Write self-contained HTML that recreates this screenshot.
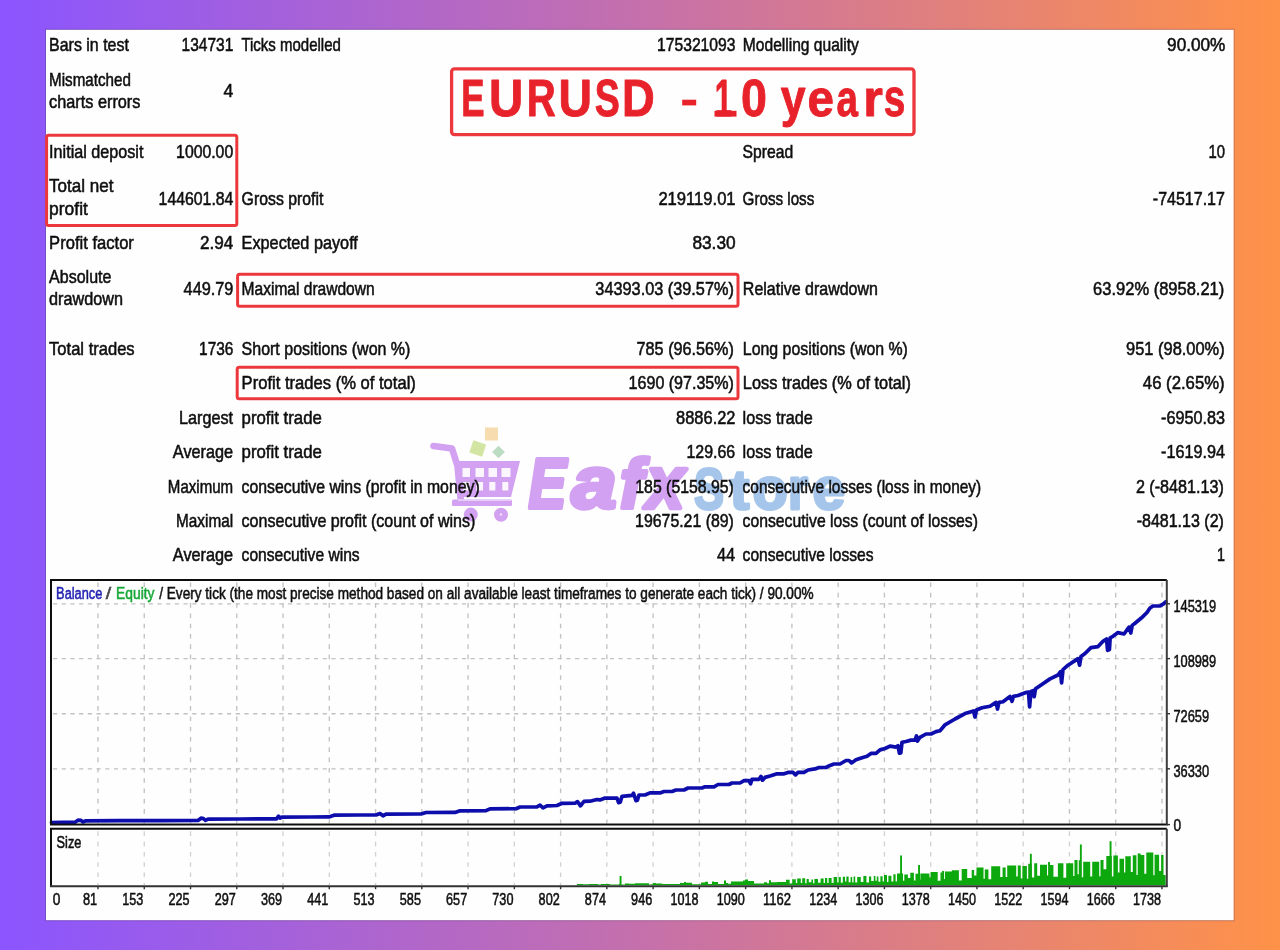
<!DOCTYPE html>
<html lang="en"><head><meta charset="utf-8"><title>EURUSD - 10 years backtest</title>
<style>
html,body{margin:0;padding:0;width:1280px;height:950px;overflow:hidden;background:#c46fa8}
svg{display:block;font-family:"Liberation Sans",sans-serif}
</style></head><body>
<svg width="1280" height="950" viewBox="0 0 1280 950">
<defs>
<linearGradient id="bg" x1="0" y1="0" x2="1" y2="0"><stop offset="0" stop-color="#8b55ff"/><stop offset="0.5" stop-color="#c570ac"/><stop offset="1" stop-color="#ff9248"/></linearGradient>
<filter id="soft" x="-5%" y="-5%" width="110%" height="110%"><feGaussianBlur stdDeviation="0.45"/></filter>
<filter id="soft2" x="-5%" y="-5%" width="110%" height="110%"><feGaussianBlur stdDeviation="0.7"/></filter>
</defs>
<rect width="1280" height="950" fill="url(#bg)"/>
<rect x="45.6" y="29.4" width="1188.4" height="891.2" fill="none" stroke="#3a2a50" stroke-opacity="0.28" stroke-width="1.2" filter="url(#soft)"/>
<rect x="46" y="29.8" width="1187.6" height="890.4" fill="#fefefe"/>
<g id="watermark" filter="url(#soft2)">
<path d="M433.5 446 L452 448.5 L457.5 466 L461 502" fill="none" stroke="#d3a1f1" stroke-width="6.6" stroke-linecap="round" stroke-linejoin="round"/>
<path d="M457 461 L520 461 L511 497 L460 497 Z" fill="#d3a1f1"/>
<rect x="462.5" y="468" width="7.5" height="9" fill="#fbf6fe"/>
<rect x="463.3" y="482" width="6.3" height="8.5" fill="#fbf6fe"/>
<rect x="475.5" y="468" width="8.5" height="9" fill="#fbf6fe"/>
<rect x="476.3" y="482" width="6.7" height="8.5" fill="#fbf6fe"/>
<rect x="488.5" y="468" width="8.5" height="9" fill="#fbf6fe"/>
<rect x="489.3" y="482" width="6.1" height="8.5" fill="#fbf6fe"/>
<rect x="501.5" y="468" width="9.0" height="9" fill="#fbf6fe"/>
<rect x="502.3" y="482" width="6.0" height="8.5" fill="#fbf6fe"/>
<rect x="452" y="499.5" width="60" height="6.5" rx="1.5" fill="#d3a1f1"/>
<rect x="458" y="499.3" width="53" height="1.6" fill="#e9d3f7"/>
<circle cx="470.8" cy="514.6" r="7" fill="#d3a1f1"/><circle cx="501" cy="514.8" r="7" fill="#d3a1f1"/>
<circle cx="501" cy="514.5" r="1.2" fill="#f2e3fb"/>
<rect x="485" y="427.5" width="13" height="13" fill="#f6dcae"/>
<rect x="471" y="442" width="13.5" height="13" fill="#d3e5a2" transform="rotate(18 477.7 448.5)"/>
<rect x="494" y="447.5" width="9" height="9" fill="#bcdcc4" transform="rotate(45 498.5 452)"/>
<text transform="translate(528.39 508.30) scale(0.8011 1.0)" font-size="70.6" font-weight="bold" font-style="italic" fill="#d3a1f1" stroke="#d3a1f1" stroke-width="4.2" stroke-linejoin="round">E</text>
<text transform="translate(571.61 508.30) scale(1.1449 1.05)" font-size="70.6" font-weight="bold" font-style="italic" fill="#d3a1f1" stroke="#d3a1f1" stroke-width="4.2" stroke-linejoin="round">a</text>
<text transform="translate(619.75 508.30) scale(0.9918 1.0)" font-size="70.6" font-weight="bold" font-style="italic" fill="#d3a1f1" stroke="#d3a1f1" stroke-width="4.2" stroke-linejoin="round">f</text>
<text transform="translate(646.26 508.30) scale(0.9725 1.05)" font-size="70.6" font-weight="bold" font-style="italic" fill="#d3a1f1" stroke="#d3a1f1" stroke-width="4.2" stroke-linejoin="round">x</text>
<text transform="translate(694.02 508.60) scale(0.7967 1.0)" font-size="56.5" font-weight="bold" fill="#a5c5ea" stroke="#a5c5ea" stroke-width="2.8" stroke-linejoin="round">S</text>
<text transform="translate(729.93 508.60) scale(1.0279 0.98)" font-size="56.5" font-weight="bold" fill="#a5c5ea" stroke="#a5c5ea" stroke-width="2.8" stroke-linejoin="round">t</text>
<text transform="translate(752.38 508.60) scale(1.0213 1.06)" font-size="56.5" font-weight="bold" fill="#a5c5ea" stroke="#a5c5ea" stroke-width="2.8" stroke-linejoin="round">o</text>
<text transform="translate(787.88 508.60) scale(0.9105 1.06)" font-size="56.5" font-weight="bold" fill="#a5c5ea" stroke="#a5c5ea" stroke-width="2.8" stroke-linejoin="round">r</text>
<text transform="translate(812.56 508.60) scale(1.0371 1.06)" font-size="56.5" font-weight="bold" fill="#a5c5ea" stroke="#a5c5ea" stroke-width="2.8" stroke-linejoin="round">e</text>
</g>
<g id="table" filter="url(#soft)">
<text x="49.10" y="51.25" font-size="18.2" fill="#0e0e0e" stroke="#0e0e0e" stroke-width="0.55" textLength="79.80" lengthAdjust="spacingAndGlyphs">Bars in test</text>
<text x="49.10" y="85.50" font-size="18.2" fill="#0e0e0e" stroke="#0e0e0e" stroke-width="0.55" textLength="81.80" lengthAdjust="spacingAndGlyphs">Mismatched</text>
<text x="49.10" y="108.00" font-size="18.2" fill="#0e0e0e" stroke="#0e0e0e" stroke-width="0.55" textLength="91.30" lengthAdjust="spacingAndGlyphs">charts errors</text>
<text x="49.10" y="157.50" font-size="18.2" fill="#0e0e0e" stroke="#0e0e0e" stroke-width="0.55" textLength="94.30" lengthAdjust="spacingAndGlyphs">Initial deposit</text>
<text x="49.10" y="192.00" font-size="18.2" fill="#0e0e0e" stroke="#0e0e0e" stroke-width="0.55" textLength="64.30" lengthAdjust="spacingAndGlyphs">Total net</text>
<text x="49.10" y="214.50" font-size="18.2" fill="#0e0e0e" stroke="#0e0e0e" stroke-width="0.55" textLength="38.80" lengthAdjust="spacingAndGlyphs">profit</text>
<text x="49.10" y="248.75" font-size="18.2" fill="#0e0e0e" stroke="#0e0e0e" stroke-width="0.55" textLength="84.80" lengthAdjust="spacingAndGlyphs">Profit factor</text>
<text x="49.10" y="282.50" font-size="18.2" fill="#0e0e0e" stroke="#0e0e0e" stroke-width="0.55" textLength="62.30" lengthAdjust="spacingAndGlyphs">Absolute</text>
<text x="49.10" y="305.00" font-size="18.2" fill="#0e0e0e" stroke="#0e0e0e" stroke-width="0.55" textLength="73.80" lengthAdjust="spacingAndGlyphs">drawdown</text>
<text x="49.10" y="355.00" font-size="18.2" fill="#0e0e0e" stroke="#0e0e0e" stroke-width="0.55" textLength="85.55" lengthAdjust="spacingAndGlyphs">Total trades</text>
<text x="181.60" y="51.25" font-size="18.2" fill="#0e0e0e" stroke="#0e0e0e" stroke-width="0.55" textLength="51.80" lengthAdjust="spacingAndGlyphs">134731</text>
<text x="223.60" y="97.20" font-size="18.2" fill="#0e0e0e" stroke="#0e0e0e" stroke-width="0.55" textLength="9.80" lengthAdjust="spacingAndGlyphs">4</text>
<text x="176.10" y="157.50" font-size="18.2" fill="#0e0e0e" stroke="#0e0e0e" stroke-width="0.55" textLength="57.10" lengthAdjust="spacingAndGlyphs">1000.00</text>
<text x="158.60" y="204.50" font-size="18.2" fill="#0e0e0e" stroke="#0e0e0e" stroke-width="0.55" textLength="74.80" lengthAdjust="spacingAndGlyphs">144601.84</text>
<text x="200.10" y="248.75" font-size="18.2" fill="#0e0e0e" stroke="#0e0e0e" stroke-width="0.55" textLength="33.30" lengthAdjust="spacingAndGlyphs">2.94</text>
<text x="183.60" y="295.00" font-size="18.2" fill="#0e0e0e" stroke="#0e0e0e" stroke-width="0.55" textLength="49.80" lengthAdjust="spacingAndGlyphs">449.79</text>
<text x="199.10" y="355.00" font-size="18.2" fill="#0e0e0e" stroke="#0e0e0e" stroke-width="0.55" textLength="34.30" lengthAdjust="spacingAndGlyphs">1736</text>
<text x="179.10" y="423.80" font-size="18.2" fill="#0e0e0e" stroke="#0e0e0e" stroke-width="0.55" textLength="54.00" lengthAdjust="spacingAndGlyphs">Largest</text>
<text x="172.85" y="458.20" font-size="18.2" fill="#0e0e0e" stroke="#0e0e0e" stroke-width="0.55" textLength="60.25" lengthAdjust="spacingAndGlyphs">Average</text>
<text x="167.85" y="492.60" font-size="18.2" fill="#0e0e0e" stroke="#0e0e0e" stroke-width="0.55" textLength="65.25" lengthAdjust="spacingAndGlyphs">Maximum</text>
<text x="176.10" y="527.00" font-size="18.2" fill="#0e0e0e" stroke="#0e0e0e" stroke-width="0.55" textLength="57.00" lengthAdjust="spacingAndGlyphs">Maximal</text>
<text x="172.85" y="561.40" font-size="18.2" fill="#0e0e0e" stroke="#0e0e0e" stroke-width="0.55" textLength="60.25" lengthAdjust="spacingAndGlyphs">Average</text>
<text x="241.40" y="51.25" font-size="18.2" fill="#0e0e0e" stroke="#0e0e0e" stroke-width="0.55" textLength="99.50" lengthAdjust="spacingAndGlyphs">Ticks modelled</text>
<text x="241.60" y="204.50" font-size="18.2" fill="#0e0e0e" stroke="#0e0e0e" stroke-width="0.55" textLength="81.80" lengthAdjust="spacingAndGlyphs">Gross profit</text>
<text x="241.60" y="248.75" font-size="18.2" fill="#0e0e0e" stroke="#0e0e0e" stroke-width="0.55" textLength="116.30" lengthAdjust="spacingAndGlyphs">Expected payoff</text>
<text x="241.60" y="295.00" font-size="18.2" fill="#0e0e0e" stroke="#0e0e0e" stroke-width="0.55" textLength="133.05" lengthAdjust="spacingAndGlyphs">Maximal drawdown</text>
<text x="241.60" y="355.00" font-size="18.2" fill="#0e0e0e" stroke="#0e0e0e" stroke-width="0.55" textLength="168.80" lengthAdjust="spacingAndGlyphs">Short positions (won %)</text>
<text x="241.60" y="389.40" font-size="18.2" fill="#0e0e0e" stroke="#0e0e0e" stroke-width="0.55" textLength="174.30" lengthAdjust="spacingAndGlyphs">Profit trades (% of total)</text>
<text x="241.60" y="423.80" font-size="18.2" fill="#0e0e0e" stroke="#0e0e0e" stroke-width="0.55" textLength="80.30" lengthAdjust="spacingAndGlyphs">profit trade</text>
<text x="241.60" y="458.20" font-size="18.2" fill="#0e0e0e" stroke="#0e0e0e" stroke-width="0.55" textLength="80.30" lengthAdjust="spacingAndGlyphs">profit trade</text>
<text x="241.60" y="492.60" font-size="18.2" fill="#0e0e0e" stroke="#0e0e0e" stroke-width="0.55" textLength="238.05" lengthAdjust="spacingAndGlyphs">consecutive wins (profit in money)</text>
<text x="241.60" y="527.00" font-size="18.2" fill="#0e0e0e" stroke="#0e0e0e" stroke-width="0.55" textLength="233.80" lengthAdjust="spacingAndGlyphs">consecutive profit (count of wins)</text>
<text x="241.60" y="561.40" font-size="18.2" fill="#0e0e0e" stroke="#0e0e0e" stroke-width="0.55" textLength="118.05" lengthAdjust="spacingAndGlyphs">consecutive wins</text>
<text x="657.10" y="51.25" font-size="18.2" fill="#0e0e0e" stroke="#0e0e0e" stroke-width="0.55" textLength="78.30" lengthAdjust="spacingAndGlyphs">175321093</text>
<text x="658.40" y="204.50" font-size="18.2" fill="#0e0e0e" stroke="#0e0e0e" stroke-width="0.55" textLength="77.20" lengthAdjust="spacingAndGlyphs">219119.01</text>
<text x="692.40" y="248.75" font-size="18.2" fill="#0e0e0e" stroke="#0e0e0e" stroke-width="0.55" textLength="43.20" lengthAdjust="spacingAndGlyphs">83.30</text>
<text x="595.35" y="295.00" font-size="18.2" fill="#0e0e0e" stroke="#0e0e0e" stroke-width="0.55" textLength="138.55" lengthAdjust="spacingAndGlyphs">34393.03 (39.57%)</text>
<text x="636.60" y="355.00" font-size="18.2" fill="#0e0e0e" stroke="#0e0e0e" stroke-width="0.55" textLength="97.30" lengthAdjust="spacingAndGlyphs">785 (96.56%)</text>
<text x="628.60" y="389.40" font-size="18.2" fill="#0e0e0e" stroke="#0e0e0e" stroke-width="0.55" textLength="105.30" lengthAdjust="spacingAndGlyphs">1690 (97.35%)</text>
<text x="676.10" y="423.80" font-size="18.2" fill="#0e0e0e" stroke="#0e0e0e" stroke-width="0.55" textLength="59.40" lengthAdjust="spacingAndGlyphs">8886.22</text>
<text x="686.50" y="458.20" font-size="18.2" fill="#0e0e0e" stroke="#0e0e0e" stroke-width="0.55" textLength="48.70" lengthAdjust="spacingAndGlyphs">129.66</text>
<text x="635.30" y="492.60" font-size="18.2" fill="#0e0e0e" stroke="#0e0e0e" stroke-width="0.55" textLength="98.60" lengthAdjust="spacingAndGlyphs">185 (5158.95)</text>
<text x="635.10" y="527.00" font-size="18.2" fill="#0e0e0e" stroke="#0e0e0e" stroke-width="0.55" textLength="98.80" lengthAdjust="spacingAndGlyphs">19675.21 (89)</text>
<text x="716.90" y="561.40" font-size="18.2" fill="#0e0e0e" stroke="#0e0e0e" stroke-width="0.55" textLength="18.20" lengthAdjust="spacingAndGlyphs">44</text>
<text x="742.85" y="51.25" font-size="18.2" fill="#0e0e0e" stroke="#0e0e0e" stroke-width="0.55" textLength="116.05" lengthAdjust="spacingAndGlyphs">Modelling quality</text>
<text x="742.60" y="157.50" font-size="18.2" fill="#0e0e0e" stroke="#0e0e0e" stroke-width="0.55" textLength="50.60" lengthAdjust="spacingAndGlyphs">Spread</text>
<text x="742.60" y="204.50" font-size="18.2" fill="#0e0e0e" stroke="#0e0e0e" stroke-width="0.55" textLength="71.70" lengthAdjust="spacingAndGlyphs">Gross loss</text>
<text x="742.85" y="295.00" font-size="18.2" fill="#0e0e0e" stroke="#0e0e0e" stroke-width="0.55" textLength="135.05" lengthAdjust="spacingAndGlyphs">Relative drawdown</text>
<text x="742.85" y="355.00" font-size="18.2" fill="#0e0e0e" stroke="#0e0e0e" stroke-width="0.55" textLength="165.05" lengthAdjust="spacingAndGlyphs">Long positions (won %)</text>
<text x="742.85" y="389.40" font-size="18.2" fill="#0e0e0e" stroke="#0e0e0e" stroke-width="0.55" textLength="168.05" lengthAdjust="spacingAndGlyphs">Loss trades (% of total)</text>
<text x="742.60" y="423.80" font-size="18.2" fill="#0e0e0e" stroke="#0e0e0e" stroke-width="0.55" textLength="70.30" lengthAdjust="spacingAndGlyphs">loss trade</text>
<text x="742.60" y="458.20" font-size="18.2" fill="#0e0e0e" stroke="#0e0e0e" stroke-width="0.55" textLength="70.30" lengthAdjust="spacingAndGlyphs">loss trade</text>
<text x="742.60" y="492.60" font-size="18.2" fill="#0e0e0e" stroke="#0e0e0e" stroke-width="0.55" textLength="238.60" lengthAdjust="spacingAndGlyphs">consecutive losses (loss in money)</text>
<text x="742.60" y="527.00" font-size="18.2" fill="#0e0e0e" stroke="#0e0e0e" stroke-width="0.55" textLength="235.30" lengthAdjust="spacingAndGlyphs">consecutive loss (count of losses)</text>
<text x="742.60" y="561.40" font-size="18.2" fill="#0e0e0e" stroke="#0e0e0e" stroke-width="0.55" textLength="130.90" lengthAdjust="spacingAndGlyphs">consecutive losses</text>
<text x="1167.10" y="51.25" font-size="18.2" fill="#0e0e0e" stroke="#0e0e0e" stroke-width="0.55" textLength="58.30" lengthAdjust="spacingAndGlyphs">90.00%</text>
<text x="1208.40" y="157.50" font-size="18.2" fill="#0e0e0e" stroke="#0e0e0e" stroke-width="0.55" textLength="16.50" lengthAdjust="spacingAndGlyphs">10</text>
<text x="1152.80" y="204.50" font-size="18.2" fill="#0e0e0e" stroke="#0e0e0e" stroke-width="0.55" textLength="72.10" lengthAdjust="spacingAndGlyphs">-74517.17</text>
<text x="1093.10" y="295.00" font-size="18.2" fill="#0e0e0e" stroke="#0e0e0e" stroke-width="0.55" textLength="131.20" lengthAdjust="spacingAndGlyphs">63.92% (8958.21)</text>
<text x="1126.10" y="355.00" font-size="18.2" fill="#0e0e0e" stroke="#0e0e0e" stroke-width="0.55" textLength="98.55" lengthAdjust="spacingAndGlyphs">951 (98.00%)</text>
<text x="1142.85" y="389.40" font-size="18.2" fill="#0e0e0e" stroke="#0e0e0e" stroke-width="0.55" textLength="81.80" lengthAdjust="spacingAndGlyphs">46 (2.65%)</text>
<text x="1161.10" y="423.80" font-size="18.2" fill="#0e0e0e" stroke="#0e0e0e" stroke-width="0.55" textLength="64.00" lengthAdjust="spacingAndGlyphs">-6950.83</text>
<text x="1161.10" y="458.20" font-size="18.2" fill="#0e0e0e" stroke="#0e0e0e" stroke-width="0.55" textLength="63.80" lengthAdjust="spacingAndGlyphs">-1619.94</text>
<text x="1135.90" y="492.60" font-size="18.2" fill="#0e0e0e" stroke="#0e0e0e" stroke-width="0.55" textLength="88.00" lengthAdjust="spacingAndGlyphs">2 (-8481.13)</text>
<text x="1136.70" y="527.00" font-size="18.2" fill="#0e0e0e" stroke="#0e0e0e" stroke-width="0.55" textLength="87.20" lengthAdjust="spacingAndGlyphs">-8481.13 (2)</text>
<text x="1216.90" y="561.40" font-size="18.2" fill="#0e0e0e" stroke="#0e0e0e" stroke-width="0.55" textLength="8.00" lengthAdjust="spacingAndGlyphs">1</text>
</g>
<g id="marks" fill="none" stroke="#ec383c" stroke-width="3.0" filter="url(#soft)">
<rect x="46.6" y="135.3" width="190.2" height="90.2" rx="2"/>
<rect x="237.6" y="274.2" width="500.4" height="32" rx="2"/>
<rect x="237.2" y="367.2" width="500.8" height="31.6" rx="2"/>
<rect x="451.6" y="68.9" width="462.4" height="65.8" rx="3" stroke-width="3.3"/>
</g>
<g id="title" filter="url(#soft)">
<text transform="translate(461.37 116.30) scale(0.6717 1.0)" font-size="52.0" font-weight="bold" fill="#e8222b" stroke="#e8222b" stroke-width="0.9" stroke-linejoin="round">E</text>
<text transform="translate(488.96 116.30) scale(0.9112 1.0)" font-size="52.0" font-weight="bold" fill="#e8222b" stroke="#e8222b" stroke-width="0.9" stroke-linejoin="round">U</text>
<text transform="translate(526.66 116.30) scale(0.7727 1.0)" font-size="52.0" font-weight="bold" fill="#e8222b" stroke="#e8222b" stroke-width="0.9" stroke-linejoin="round">R</text>
<text transform="translate(558.41 116.30) scale(0.8925 1.0)" font-size="52.0" font-weight="bold" fill="#e8222b" stroke="#e8222b" stroke-width="0.9" stroke-linejoin="round">U</text>
<text transform="translate(594.74 116.30) scale(0.7207 1.0)" font-size="52.0" font-weight="bold" fill="#e8222b" stroke="#e8222b" stroke-width="0.9" stroke-linejoin="round">S</text>
<text transform="translate(621.96 116.30) scale(0.8722 1.0)" font-size="52.0" font-weight="bold" fill="#e8222b" stroke="#e8222b" stroke-width="0.9" stroke-linejoin="round">D</text>
<text transform="translate(714.81 116.30) scale(0.5977 1.0)" font-size="52.0" font-weight="bold" fill="#e8222b" stroke="#e8222b" stroke-width="0.9" stroke-linejoin="round">1</text>
<text transform="translate(740.96 116.30) scale(0.8974 1.0)" font-size="52.0" font-weight="bold" fill="#e8222b" stroke="#e8222b" stroke-width="0.9" stroke-linejoin="round">0</text>
<text transform="translate(780.84 116.30) scale(0.8581 1.0)" font-size="52.0" font-weight="bold" fill="#e8222b" stroke="#e8222b" stroke-width="0.9" stroke-linejoin="round">y</text>
<text transform="translate(807.55 116.30) scale(0.9150 1.0)" font-size="52.0" font-weight="bold" fill="#e8222b" stroke="#e8222b" stroke-width="0.9" stroke-linejoin="round">e</text>
<text transform="translate(836.41 116.30) scale(0.7406 1.0)" font-size="52.0" font-weight="bold" fill="#e8222b" stroke="#e8222b" stroke-width="0.9" stroke-linejoin="round">a</text>
<text transform="translate(863.31 116.30) scale(0.9692 1.0)" font-size="52.0" font-weight="bold" fill="#e8222b" stroke="#e8222b" stroke-width="0.9" stroke-linejoin="round">r</text>
<text transform="translate(883.87 116.30) scale(0.7464 1.0)" font-size="52.0" font-weight="bold" fill="#e8222b" stroke="#e8222b" stroke-width="0.9" stroke-linejoin="round">s</text>
<rect x="682.2" y="99.7" width="14" height="5.7" fill="#e8222b"/>
<rect x="714.5" y="110.8" width="22" height="5.8" fill="#e8222b"/>
</g>
<g id="chart">
<g stroke="#c2c2c2" stroke-width="1.35" fill="none" filter="url(#soft2)">
<path d="M98.00 582.5 V823.6" stroke-dasharray="4.6 5.7"/>
<path d="M98.00 831.3 V885.2" stroke-dasharray="4.6 5.7" stroke="#d2d2d2"/>
<path d="M144.26 582.5 V823.6" stroke-dasharray="4.6 5.7"/>
<path d="M144.26 831.3 V885.2" stroke-dasharray="4.6 5.7" stroke="#d2d2d2"/>
<path d="M190.52 582.5 V823.6" stroke-dasharray="4.6 5.7"/>
<path d="M190.52 831.3 V885.2" stroke-dasharray="4.6 5.7" stroke="#d2d2d2"/>
<path d="M236.78 582.5 V823.6" stroke-dasharray="4.6 5.7"/>
<path d="M236.78 831.3 V885.2" stroke-dasharray="4.6 5.7" stroke="#d2d2d2"/>
<path d="M283.04 582.5 V823.6" stroke-dasharray="4.6 5.7"/>
<path d="M283.04 831.3 V885.2" stroke-dasharray="4.6 5.7" stroke="#d2d2d2"/>
<path d="M329.30 582.5 V823.6" stroke-dasharray="4.6 5.7"/>
<path d="M329.30 831.3 V885.2" stroke-dasharray="4.6 5.7" stroke="#d2d2d2"/>
<path d="M375.56 582.5 V823.6" stroke-dasharray="4.6 5.7"/>
<path d="M375.56 831.3 V885.2" stroke-dasharray="4.6 5.7" stroke="#d2d2d2"/>
<path d="M421.82 582.5 V823.6" stroke-dasharray="4.6 5.7"/>
<path d="M421.82 831.3 V885.2" stroke-dasharray="4.6 5.7" stroke="#d2d2d2"/>
<path d="M468.08 582.5 V823.6" stroke-dasharray="4.6 5.7"/>
<path d="M468.08 831.3 V885.2" stroke-dasharray="4.6 5.7" stroke="#d2d2d2"/>
<path d="M514.34 582.5 V823.6" stroke-dasharray="4.6 5.7"/>
<path d="M514.34 831.3 V885.2" stroke-dasharray="4.6 5.7" stroke="#d2d2d2"/>
<path d="M560.60 582.5 V823.6" stroke-dasharray="4.6 5.7"/>
<path d="M560.60 831.3 V885.2" stroke-dasharray="4.6 5.7" stroke="#d2d2d2"/>
<path d="M606.86 582.5 V823.6" stroke-dasharray="4.6 5.7"/>
<path d="M606.86 831.3 V885.2" stroke-dasharray="4.6 5.7" stroke="#d2d2d2"/>
<path d="M653.12 582.5 V823.6" stroke-dasharray="4.6 5.7"/>
<path d="M653.12 831.3 V885.2" stroke-dasharray="4.6 5.7" stroke="#d2d2d2"/>
<path d="M699.38 582.5 V823.6" stroke-dasharray="4.6 5.7"/>
<path d="M699.38 831.3 V885.2" stroke-dasharray="4.6 5.7" stroke="#d2d2d2"/>
<path d="M745.64 582.5 V823.6" stroke-dasharray="4.6 5.7"/>
<path d="M745.64 831.3 V885.2" stroke-dasharray="4.6 5.7" stroke="#d2d2d2"/>
<path d="M791.90 582.5 V823.6" stroke-dasharray="4.6 5.7"/>
<path d="M791.90 831.3 V885.2" stroke-dasharray="4.6 5.7" stroke="#d2d2d2"/>
<path d="M838.16 582.5 V823.6" stroke-dasharray="4.6 5.7"/>
<path d="M838.16 831.3 V885.2" stroke-dasharray="4.6 5.7" stroke="#d2d2d2"/>
<path d="M884.42 582.5 V823.6" stroke-dasharray="4.6 5.7"/>
<path d="M884.42 831.3 V885.2" stroke-dasharray="4.6 5.7" stroke="#d2d2d2"/>
<path d="M930.68 582.5 V823.6" stroke-dasharray="4.6 5.7"/>
<path d="M930.68 831.3 V885.2" stroke-dasharray="4.6 5.7" stroke="#d2d2d2"/>
<path d="M976.94 582.5 V823.6" stroke-dasharray="4.6 5.7"/>
<path d="M976.94 831.3 V885.2" stroke-dasharray="4.6 5.7" stroke="#d2d2d2"/>
<path d="M1023.20 582.5 V823.6" stroke-dasharray="4.6 5.7"/>
<path d="M1023.20 831.3 V885.2" stroke-dasharray="4.6 5.7" stroke="#d2d2d2"/>
<path d="M1069.46 582.5 V823.6" stroke-dasharray="4.6 5.7"/>
<path d="M1069.46 831.3 V885.2" stroke-dasharray="4.6 5.7" stroke="#d2d2d2"/>
<path d="M1115.72 582.5 V823.6" stroke-dasharray="4.6 5.7"/>
<path d="M1115.72 831.3 V885.2" stroke-dasharray="4.6 5.7" stroke="#d2d2d2"/>
<path d="M1161.98 582.5 V823.6" stroke-dasharray="4.6 5.7"/>
<path d="M1161.98 831.3 V885.2" stroke-dasharray="4.6 5.7" stroke="#d2d2d2"/>
<path d="M53 603.8 H1165.8" stroke-dasharray="4.2 4.5"/>
<path d="M53 658.6 H1165.8" stroke-dasharray="4.2 4.5"/>
<path d="M53 713.7 H1165.8" stroke-dasharray="4.2 4.5"/>
<path d="M53 768.8 H1165.8" stroke-dasharray="4.2 4.5"/>
</g>
<path d="M51.5 822.6 L75.0 822.2 L78.0 820.2 L81.0 820.4 L83.0 822.0 L85.5 820.8 L120.0 820.6 L160.0 820.6 L198.0 820.5 L201.0 818.2 L203.5 818.6 L205.5 820.4 L208.0 819.2 L240.0 819.0 L276.5 818.8 L278.5 816.2 L280.0 818.2 L282.0 817.2 L310.0 817.0 L329.0 816.9 L334.0 815.2 L360.0 815.0 L376.0 815.0 L380.0 813.6 L383.0 815.8 L386.0 814.2 L421.0 814.0 L426.0 812.5 L455.0 812.4 L460.0 810.8 L486.0 810.7 L490.0 808.8 L516.0 808.7 L520.0 807.0 L537.0 806.8 L540.0 805.2 L543.0 807.8 L547.0 805.8 L557.0 805.5 L562.0 803.3 L575.0 803.2 L577.5 801.6 L580.5 805.8 L584.0 801.4 L590.0 801.2 L597.0 799.5 L600.0 799.9 L605.0 798.1 L617.0 798.1 L618.6 802.7 L620.2 802.3 L622.0 796.4 L632.0 795.3 L633.5 793.3 L636.0 800.6 L637.4 800.2 L639.0 795.0 L645.0 795.0 L650.0 792.9 L660.0 792.9 L664.0 791.5 L672.0 791.5 L676.0 790.0 L684.0 790.0 L688.0 788.0 L702.0 788.0 L705.0 786.8 L714.0 786.8 L718.0 784.5 L729.0 784.5 L732.0 783.0 L740.0 783.0 L744.0 780.7 L749.0 780.7 L750.5 783.8 L752.0 779.3 L759.0 779.3 L761.0 776.4 L762.5 780.2 L765.0 777.4 L770.0 776.0 L777.0 773.8 L784.0 773.8 L788.0 772.4 L793.0 772.4 L795.5 774.8 L798.0 772.4 L804.0 772.4 L808.0 770.0 L815.0 768.9 L819.0 767.5 L826.0 767.5 L830.0 765.4 L834.0 764.0 L840.0 764.0 L846.0 760.5 L849.0 760.5 L851.5 762.9 L856.0 759.8 L862.0 757.7 L867.0 756.3 L871.0 753.4 L876.0 753.4 L880.0 749.9 L885.0 748.5 L890.0 746.1 L896.0 747.1 L898.0 745.7 L899.4 753.2 L900.8 753.0 L902.0 742.2 L906.0 741.5 L911.0 740.1 L915.0 740.1 L916.5 735.9 L917.5 741.1 L920.0 737.3 L926.0 734.0 L931.0 734.0 L936.0 731.6 L940.0 730.7 L944.0 726.0 L945.0 724.8 L955.0 719.0 L965.0 713.6 L973.5 711.0 L975.0 717.0 L976.5 710.0 L982.0 707.8 L990.0 706.2 L996.0 702.4 L997.5 709.0 L999.0 702.4 L1003.0 701.7 L1010.0 696.4 L1012.0 701.3 L1013.5 696.4 L1018.0 695.5 L1026.0 692.5 L1028.5 692.0 L1029.6 706.8 L1031.0 691.4 L1033.0 690.6 L1034.2 696.6 L1035.5 688.8 L1040.0 685.7 L1050.0 678.9 L1058.0 675.0 L1060.5 671.6 L1061.6 682.8 L1063.0 669.6 L1068.0 665.2 L1078.0 658.6 L1079.6 665.2 L1081.0 656.4 L1085.0 653.5 L1091.0 647.6 L1098.0 646.6 L1103.0 641.2 L1106.5 639.0 L1107.6 650.4 L1109.4 649.6 L1110.2 637.8 L1112.0 636.9 L1118.0 632.6 L1124.0 634.0 L1129.0 627.1 L1130.8 633.0 L1132.2 625.4 L1135.0 623.2 L1141.0 618.3 L1147.0 612.5 L1150.0 608.0 L1153.0 606.0 L1160.0 606.0 L1163.0 604.2 L1166.0 601.8" fill="none" stroke="#0b0bab" stroke-width="3.7" stroke-linejoin="round" stroke-linecap="round" filter="url(#soft)"/>
<g fill="#0aa80a" filter="url(#soft)"><path d="M577 885.2V884.0H583.0V884.2H589.0V884.0H598.0V884.4H601.0V884.1H610.0V884.4H619.0V884.0H621.0V884.4H625.0V883.6H627.0V883.6H629.0V883.8H635.0V883.2H644.0V883.3H647.0V883.3H649.0V884.4H651.0V884.2H653.0V883.1H656.0V883.4H658.0V883.4H662.0V884.1H671.0V884.0H680.0V882.9H684.0V881.9H686.0V882.8H688.0V882.8H692.0V884.2H701.0V882.4H705.0V881.8H708.0V884.0H712.0V881.5H714.0V882.1H716.0V882.0H718.0V883.9H724.0V880.4H726.0V883.1H728.0V883.8H731.0V881.6H737.0V881.4H743.0V880.4H745.0V879.5H748.0V881.0H752.0V880.9H754.0V883.4H758.0V883.4H764.0V882.3H767.0V883.2H769.0V880.2H771.0V882.2H777.0V882.0H786.0V879.7H789.6V883.5H792.2V879.2H795.8V883.1H797.2V878.5H800.8V883.1H802.2V878.3H805.2V883.3H806.6V879.0H808.8V882.3H811.4V879.4H813.0V883.2H814.4V878.9H818.0V882.8H820.6V878.4H823.6V883.1H825.0V877.9H827.2V883.0H828.6V878.1H831.6V882.9H833.6V877.0H837.2V882.5H838.6V877.1H840.8V882.8H842.8V876.7H845.0V881.5H846.4V876.6H848.6V882.3H850.6V877.0H852.2V882.6H853.6V876.6H855.2V882.6H857.2V877.0H860.8V882.1H863.4V876.1H866.4V882.4H869.0V876.5H871.2V880.9H873.8V876.1H875.4V880.8H876.8V876.5H878.4V881.7H880.4V876.3H882.6V881.6H884.0V874.9H887.0V882.1H888.4V875.7H891.4V881.5H893.4V874.2H895.6V881.4H897.0V873.6H900.6V873.6H903.0V880.8H904.3V874.4H907.9V878.1H910.3V872.7H913.9V880.6H915.5V873.8H919.1V879.6H920.4V873.5H929.4V877.3H930.7V872.1H937.7V880.8H940.5V872.4H942.9V878.9H944.9V871.4H951.9V870.2H958.9V880.4H961.7V869.1H967.2V878.1H971.7V870.0H974.1V875.5H976.5V867.5H983.5V878.8H984.8V869.4H988.4V879.3H991.2V866.3H1000.2V877.1H1002.6V867.6H1005.6V876.9H1007.2V865.4H1016.2V876.5H1017.8V865.6H1020.8V878.5H1022.4V866.0H1026.9V878.8H1028.2V863.8H1031.8V877.4H1034.2V863.3H1037.2V875.8H1040.0V864.7H1047.0V875.4H1049.8V865.0H1053.4V876.7H1057.9V863.2H1063.4V877.8H1066.2V863.3H1073.2V876.1H1074.5V860.0H1077.5V874.3H1078.8V860.3H1081.2V877.3H1083.2V861.7H1090.2V876.6H1092.2V861.8H1099.2V876.3H1100.5V860.1H1103.5V869.2H1106.3V855.9H1111.8V876.4H1113.4V855.6H1117.9V872.6H1119.5V858.8H1124.0V872.4H1125.3V856.3H1130.8V872.1H1132.8V855.2H1136.4V875.1H1137.7V853.4H1140.7V855.1H1144.3V873.7H1146.3V852.6H1153.3V875.2H1154.6V854.8H1159.1V870.9H1161.1V855.0H1163.5V874.9H1165.6V885.2Z"/>
<rect x="619.6" y="876.0" width="1.9" height="9.2"/>
<rect x="900.1" y="855.5" width="1.9" height="29.7"/>
<rect x="918.1" y="865.0" width="1.9" height="20.2"/>
<rect x="942.1" y="871.0" width="1.9" height="14.2"/>
<rect x="1029.9" y="853.8" width="1.9" height="31.4"/>
<rect x="1048.1" y="862.0" width="1.9" height="23.2"/>
<rect x="1079.9" y="844.5" width="1.9" height="40.7"/>
<rect x="1109.6" y="841.2" width="1.9" height="44.0"/>
</g>
<g fill="none" stroke="#111" stroke-width="2" filter="url(#soft)">
<path d="M51 824.6 V580 H1166.8"/>
<path d="M50 824.6 H1167.8" />
<path d="M51 886.2 V828.8 H1166.8"/>
<path d="M50 886.2 H1167.8" stroke="#333"/>
<path d="M1166.8 580 V824.6" stroke="#3c3c3c"/>
<path d="M1166.8 828.8 V886.2" stroke="#3c3c3c"/>
</g>
<g stroke="#333" stroke-width="1.4" filter="url(#soft)">
<path d="M1166.8 603.8 h3.2"/>
<path d="M1166.8 658.6 h3.2"/>
<path d="M1166.8 713.7 h3.2"/>
<path d="M1166.8 768.8 h3.2"/>
<path d="M1166.8 824.6 h3.2"/>
<path d="M98.00 886.2 v3"/>
<path d="M144.26 886.2 v3"/>
<path d="M190.52 886.2 v3"/>
<path d="M236.78 886.2 v3"/>
<path d="M283.04 886.2 v3"/>
<path d="M329.30 886.2 v3"/>
<path d="M375.56 886.2 v3"/>
<path d="M421.82 886.2 v3"/>
<path d="M468.08 886.2 v3"/>
<path d="M514.34 886.2 v3"/>
<path d="M560.60 886.2 v3"/>
<path d="M606.86 886.2 v3"/>
<path d="M653.12 886.2 v3"/>
<path d="M699.38 886.2 v3"/>
<path d="M745.64 886.2 v3"/>
<path d="M791.90 886.2 v3"/>
<path d="M838.16 886.2 v3"/>
<path d="M884.42 886.2 v3"/>
<path d="M930.68 886.2 v3"/>
<path d="M976.94 886.2 v3"/>
<path d="M1023.20 886.2 v3"/>
<path d="M1069.46 886.2 v3"/>
<path d="M1115.72 886.2 v3"/>
<path d="M1161.98 886.2 v3"/>
</g>
<g id="charttext" filter="url(#soft)">
<text x="56.10" y="599.40" font-size="17.1" fill="#2424b4" stroke="#2424b4" stroke-width="0.55" textLength="46.30" lengthAdjust="spacingAndGlyphs">Balance</text>
<text x="105.80" y="599.40" font-size="17.1" fill="#444" stroke="#444" stroke-width="0.55" textLength="5.40" lengthAdjust="spacingAndGlyphs">/</text>
<text x="116.10" y="599.40" font-size="17.1" fill="#18a838" stroke="#18a838" stroke-width="0.55" textLength="38.40" lengthAdjust="spacingAndGlyphs">Equity</text>
<text x="159.20" y="599.40" font-size="17.1" fill="#0e0e0e" stroke="#0e0e0e" stroke-width="0.55" textLength="654.40" lengthAdjust="spacingAndGlyphs">/ Every tick (the most precise method based on all available least timeframes to generate each tick) / 90.00%</text>
<text x="1173.40" y="612.30" font-size="17.1" fill="#0e0e0e" stroke="#0e0e0e" stroke-width="0.55" textLength="42.72" lengthAdjust="spacingAndGlyphs">145319</text>
<text x="1173.40" y="667.10" font-size="17.1" fill="#0e0e0e" stroke="#0e0e0e" stroke-width="0.55" textLength="42.72" lengthAdjust="spacingAndGlyphs">108989</text>
<text x="1173.40" y="722.20" font-size="17.1" fill="#0e0e0e" stroke="#0e0e0e" stroke-width="0.55" textLength="35.70" lengthAdjust="spacingAndGlyphs">72659</text>
<text x="1173.40" y="777.30" font-size="17.1" fill="#0e0e0e" stroke="#0e0e0e" stroke-width="0.55" textLength="35.70" lengthAdjust="spacingAndGlyphs">36330</text>
<text x="1173.40" y="830.90" font-size="17.1" fill="#0e0e0e" stroke="#0e0e0e" stroke-width="0.55" textLength="7.62" lengthAdjust="spacingAndGlyphs">0</text>
<text x="56.60" y="848.00" font-size="17.1" fill="#0e0e0e" stroke="#0e0e0e" stroke-width="0.55" textLength="24.80" lengthAdjust="spacingAndGlyphs">Size</text>
<text x="52.70" y="905.30" font-size="17.1" fill="#0e0e0e" stroke="#0e0e0e" stroke-width="0.55" textLength="7.60" lengthAdjust="spacingAndGlyphs">0</text>
<text x="82.90" y="905.30" font-size="17.1" fill="#0e0e0e" stroke="#0e0e0e" stroke-width="0.55" textLength="14.20" lengthAdjust="spacingAndGlyphs">81</text>
<text x="122.26" y="905.30" font-size="17.1" fill="#0e0e0e" stroke="#0e0e0e" stroke-width="0.55" textLength="21.10" lengthAdjust="spacingAndGlyphs">153</text>
<text x="168.52" y="905.30" font-size="17.1" fill="#0e0e0e" stroke="#0e0e0e" stroke-width="0.55" textLength="21.10" lengthAdjust="spacingAndGlyphs">225</text>
<text x="214.78" y="905.30" font-size="17.1" fill="#0e0e0e" stroke="#0e0e0e" stroke-width="0.55" textLength="21.10" lengthAdjust="spacingAndGlyphs">297</text>
<text x="261.04" y="905.30" font-size="17.1" fill="#0e0e0e" stroke="#0e0e0e" stroke-width="0.55" textLength="21.10" lengthAdjust="spacingAndGlyphs">369</text>
<text x="307.30" y="905.30" font-size="17.1" fill="#0e0e0e" stroke="#0e0e0e" stroke-width="0.55" textLength="21.10" lengthAdjust="spacingAndGlyphs">441</text>
<text x="353.56" y="905.30" font-size="17.1" fill="#0e0e0e" stroke="#0e0e0e" stroke-width="0.55" textLength="21.10" lengthAdjust="spacingAndGlyphs">513</text>
<text x="399.82" y="905.30" font-size="17.1" fill="#0e0e0e" stroke="#0e0e0e" stroke-width="0.55" textLength="21.10" lengthAdjust="spacingAndGlyphs">585</text>
<text x="446.08" y="905.30" font-size="17.1" fill="#0e0e0e" stroke="#0e0e0e" stroke-width="0.55" textLength="21.10" lengthAdjust="spacingAndGlyphs">657</text>
<text x="492.34" y="905.30" font-size="17.1" fill="#0e0e0e" stroke="#0e0e0e" stroke-width="0.55" textLength="21.10" lengthAdjust="spacingAndGlyphs">730</text>
<text x="538.60" y="905.30" font-size="17.1" fill="#0e0e0e" stroke="#0e0e0e" stroke-width="0.55" textLength="21.10" lengthAdjust="spacingAndGlyphs">802</text>
<text x="584.86" y="905.30" font-size="17.1" fill="#0e0e0e" stroke="#0e0e0e" stroke-width="0.55" textLength="21.10" lengthAdjust="spacingAndGlyphs">874</text>
<text x="631.12" y="905.30" font-size="17.1" fill="#0e0e0e" stroke="#0e0e0e" stroke-width="0.55" textLength="21.10" lengthAdjust="spacingAndGlyphs">946</text>
<text x="670.48" y="905.30" font-size="17.1" fill="#0e0e0e" stroke="#0e0e0e" stroke-width="0.55" textLength="28.00" lengthAdjust="spacingAndGlyphs">1018</text>
<text x="716.74" y="905.30" font-size="17.1" fill="#0e0e0e" stroke="#0e0e0e" stroke-width="0.55" textLength="28.00" lengthAdjust="spacingAndGlyphs">1090</text>
<text x="763.00" y="905.30" font-size="17.1" fill="#0e0e0e" stroke="#0e0e0e" stroke-width="0.55" textLength="28.00" lengthAdjust="spacingAndGlyphs">1162</text>
<text x="809.26" y="905.30" font-size="17.1" fill="#0e0e0e" stroke="#0e0e0e" stroke-width="0.55" textLength="28.00" lengthAdjust="spacingAndGlyphs">1234</text>
<text x="855.52" y="905.30" font-size="17.1" fill="#0e0e0e" stroke="#0e0e0e" stroke-width="0.55" textLength="28.00" lengthAdjust="spacingAndGlyphs">1306</text>
<text x="901.78" y="905.30" font-size="17.1" fill="#0e0e0e" stroke="#0e0e0e" stroke-width="0.55" textLength="28.00" lengthAdjust="spacingAndGlyphs">1378</text>
<text x="948.04" y="905.30" font-size="17.1" fill="#0e0e0e" stroke="#0e0e0e" stroke-width="0.55" textLength="28.00" lengthAdjust="spacingAndGlyphs">1450</text>
<text x="994.30" y="905.30" font-size="17.1" fill="#0e0e0e" stroke="#0e0e0e" stroke-width="0.55" textLength="28.00" lengthAdjust="spacingAndGlyphs">1522</text>
<text x="1040.56" y="905.30" font-size="17.1" fill="#0e0e0e" stroke="#0e0e0e" stroke-width="0.55" textLength="28.00" lengthAdjust="spacingAndGlyphs">1594</text>
<text x="1086.82" y="905.30" font-size="17.1" fill="#0e0e0e" stroke="#0e0e0e" stroke-width="0.55" textLength="28.00" lengthAdjust="spacingAndGlyphs">1666</text>
<text x="1133.08" y="905.30" font-size="17.1" fill="#0e0e0e" stroke="#0e0e0e" stroke-width="0.55" textLength="28.00" lengthAdjust="spacingAndGlyphs">1738</text>
</g>
</g>
</svg></body></html>
